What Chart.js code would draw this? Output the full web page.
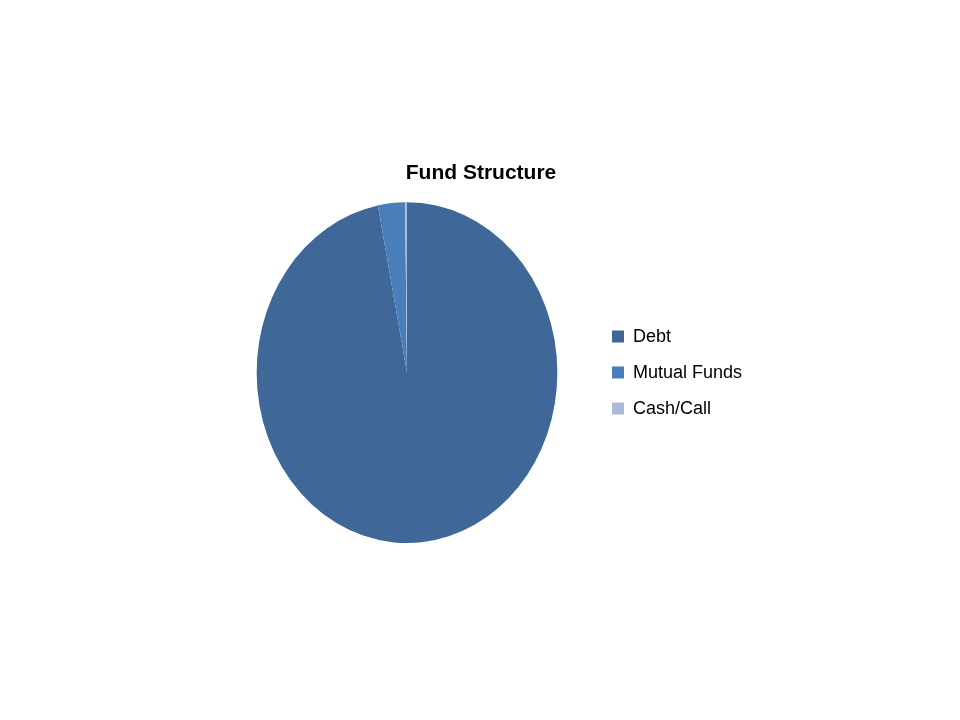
<!DOCTYPE html>
<html>
<head>
<meta charset="utf-8">
<script src="https://cdn.jsdelivr.net/npm/chart.js@4/dist/chart.umd.min.js"></script>
<style>
  html, body { margin: 0; padding: 0; background: #fff; }
  #wrap { position: relative; width: 960px; height: 720px; }
</style>
</head>
<body>
<div id="wrap"><canvas id="pieChart"></canvas></div>
<script>
// data (percent of fund)
var categories = ['Debt', 'Mutual Funds', 'Cash/Call'];
var shares = [96.9, 2.9, 0.2];
var sliceColors = ['#3F6898', '#4A7EBB', '#A9BBD8'];

// the original pie is a bit squashed sideways, so squeeze the arcs only
var squash = {
  id: 'squash',
  beforeDatasetsDraw: function(chart) {
    var arc = chart.getDatasetMeta(0).data[0];
    var c = chart.ctx;
    c.save();
    c.translate(arc.x, arc.y);
    c.scale(150 / 170, 1);
    c.translate(-arc.x, -arc.y);
  },
  afterDatasetsDraw: function(chart) {
    chart.ctx.restore();
  }
};

var ctx = document.getElementById('pieChart').getContext('2d');
var myChart = new Chart(ctx, {
  type: 'pie',
  data: {
    labels: categories,
    datasets: [{
      data: shares,
      backgroundColor: sliceColors,
      borderWidth: 0
    }]
  },
  options: {
    responsive: true,
    maintainAspectRatio: false,
    animation: false,
    layout: {
      padding: { top: 158, bottom: 177, left: 220, right: 218 }
    },
    plugins: {
      title: {
        display: true,
        text: 'Fund Structure',
        color: '#000',
        font: { family: 'Liberation Sans', size: 21, weight: 'bold' },
        padding: { top: 3, bottom: 16 }
      },
      legend: {
        position: 'right',
        fullSize: false,
        maxWidth: 148,
        labels: {
          color: '#000',
          boxWidth: 12,
          boxHeight: 12,
          padding: 18,
          font: { family: 'Liberation Sans', size: 18 }
        }
      },
      tooltip: { enabled: false }
    }
  },
  plugins: [squash]
});
</script>
</body>
</html>
